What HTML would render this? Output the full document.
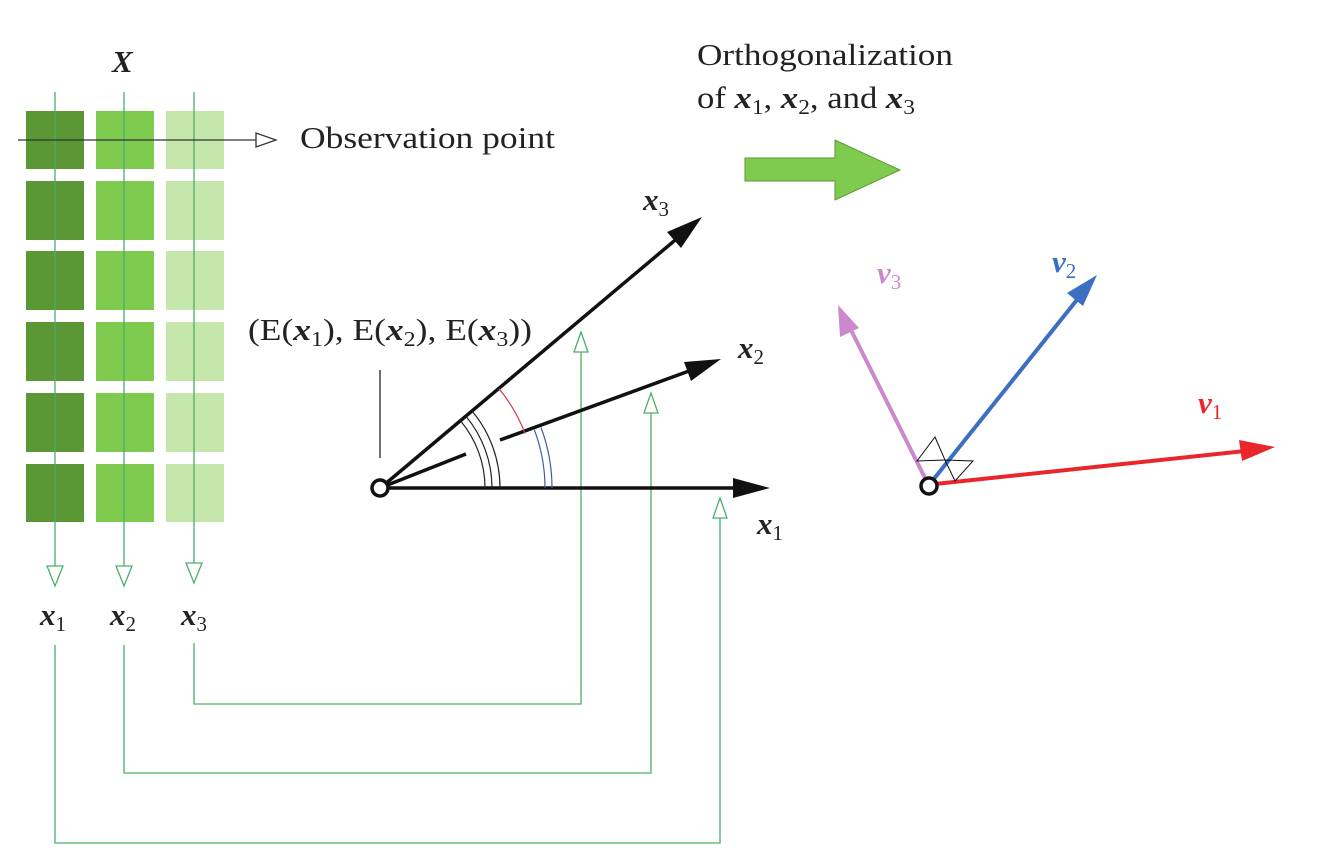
<!DOCTYPE html>
<html><head><meta charset="utf-8"><style>
html,body{margin:0;padding:0;background:#fff;}
svg{display:block;}
text{font-family:"Liberation Serif",serif;fill:#222;}
.v{font-weight:bold;font-style:italic;}
</style></head><body>
<svg width="1318" height="858" viewBox="0 0 1318 858" xmlns="http://www.w3.org/2000/svg">
<g>
<g fill="#5b9734">
<rect x="26" y="111" width="58" height="58"/><rect x="26" y="181" width="58" height="59"/><rect x="26" y="251" width="58" height="59"/><rect x="26" y="322" width="58" height="59"/><rect x="26" y="393" width="58" height="59"/><rect x="26" y="464" width="58" height="58"/>
</g>
<g fill="#7ecb4f">
<rect x="96" y="111" width="58" height="58"/><rect x="96" y="181" width="58" height="59"/><rect x="96" y="251" width="58" height="59"/><rect x="96" y="322" width="58" height="59"/><rect x="96" y="393" width="58" height="59"/><rect x="96" y="464" width="58" height="58"/>
</g>
<g fill="#c5e7ab">
<rect x="166" y="111" width="58" height="58"/><rect x="166" y="181" width="58" height="59"/><rect x="166" y="251" width="58" height="59"/><rect x="166" y="322" width="58" height="59"/><rect x="166" y="393" width="58" height="59"/><rect x="166" y="464" width="58" height="58"/>
</g>
</g>
<text x="112" y="72" class="v" font-size="31">X</text>
<g stroke="#4caf6a" stroke-width="1.3" fill="#fff">
<line x1="55" y1="92" x2="55" y2="566"/><line x1="124" y1="92" x2="124" y2="566"/><line x1="194" y1="92" x2="194" y2="563"/>
<polygon points="47,566 63,566 55,586"/><polygon points="116,566 132,566 124,586"/><polygon points="186,563 202,563 194,583"/>
<polyline fill="none" points="194,643 194,704 581,704 581,350"/>
<polyline fill="none" points="124,645 124,773 651,773 651,412"/>
<polyline fill="none" points="55,645 55,843 720,843 720,518"/>
<polygon points="574,352 588,352 581,332"/>
<polygon points="644,413 658,413 651,393"/>
<polygon points="713,518 727,518 720,498"/>
</g>
<line x1="18" y1="140" x2="256" y2="140" stroke="#333" stroke-width="1.3"/>
<polygon points="256,133 256,147 276,140" fill="#fff" stroke="#333" stroke-width="1.3"/>
<text x="300" y="148" font-size="31" textLength="255" lengthAdjust="spacingAndGlyphs">Observation point</text>
<text x="40" y="625" class="v" font-size="31">x<tspan font-size="21" dy="6" font-weight="normal" font-style="normal">1</tspan></text>
<text x="110" y="625" class="v" font-size="31">x<tspan font-size="21" dy="6" font-weight="normal" font-style="normal">2</tspan></text>
<text x="181" y="625" class="v" font-size="31">x<tspan font-size="21" dy="6" font-weight="normal" font-style="normal">3</tspan></text>
<text x="697" y="65" font-size="31" textLength="256" lengthAdjust="spacingAndGlyphs">Orthogonalization</text>
<text x="697" y="108" font-size="31" textLength="218" lengthAdjust="spacingAndGlyphs">of <tspan class="v">x</tspan><tspan font-size="21" dy="6">1</tspan><tspan dy="-6">, </tspan><tspan class="v">x</tspan><tspan font-size="21" dy="6">2</tspan><tspan dy="-6">, and </tspan><tspan class="v">x</tspan><tspan font-size="21" dy="6">3</tspan></text>
<polygon points="745,158 835,158 835,140 900,170 835,200 835,181 745,181" fill="#7ecb4f" stroke="#5b9734" stroke-width="1"/>
<text x="248" y="340" font-size="31" textLength="284" lengthAdjust="spacingAndGlyphs">(E(<tspan class="v">x</tspan><tspan font-size="21" dy="6">1</tspan><tspan dy="-6">), E(</tspan><tspan class="v">x</tspan><tspan font-size="21" dy="6">2</tspan><tspan dy="-6">), E(</tspan><tspan class="v">x</tspan><tspan font-size="21" dy="6">3</tspan><tspan dy="-6">))</tspan></text>
<line x1="380" y1="370" x2="380" y2="458" stroke="#222" stroke-width="1.3"/>
<g stroke="#111" stroke-width="3.5" fill="none">
<line x1="385" y1="488" x2="740" y2="488"/>
<line x1="384" y1="485" x2="680" y2="236"/>
<line x1="385" y1="486" x2="466" y2="454"/>
<line x1="500" y1="440" x2="700" y2="367"/>
</g>
<g fill="#111">
<polygon points="770,488 733,478 733,498"/>
<polygon points="702,217 667,232 681,248"/>
<polygon points="721,359 684,362 691,381"/>
</g>
<circle cx="380" cy="488" r="8" fill="#fff" stroke="#111" stroke-width="3.5"/>
<g fill="none" stroke-width="1.2">
<path d="M485,488 A105,105 0 0 0 460.5,420.7" stroke="#222"/>
<path d="M492,488 A112,112 0 0 0 465.9,416.2" stroke="#222"/>
<path d="M500,488 A120,120 0 0 0 472,411" stroke="#222"/>
<path d="M545,488 A165,165 0 0 0 534.4,429.9" stroke="#3b5fa0"/>
<path d="M552,488 A172,172 0 0 0 541,427.5" stroke="#3b5fa0"/>
<path d="M525,433.4 A155,155 0 0 0 498.9,388.6" stroke="#cc3b4a"/>
</g>
<text x="643" y="210" class="v" font-size="31">x<tspan font-size="21" dy="6" font-weight="normal" font-style="normal">3</tspan></text>
<text x="738" y="358" class="v" font-size="31">x<tspan font-size="21" dy="6" font-weight="normal" font-style="normal">2</tspan></text>
<text x="757" y="534" class="v" font-size="31">x<tspan font-size="21" dy="6" font-weight="normal" font-style="normal">1</tspan></text>
<line x1="935" y1="484" x2="1245" y2="451" stroke="#e8262b" stroke-width="4"/>
<polygon points="1275,447 1239,440 1242,461" fill="#e8262b"/>
<line x1="933" y1="480" x2="1080" y2="296" stroke="#3a6fc2" stroke-width="4"/>
<polygon points="1097,275 1067,293 1083,306" fill="#3a6fc2"/>
<line x1="926" y1="480" x2="851" y2="330" stroke="#cc88cc" stroke-width="4"/>
<polygon points="838,305 840,337 859,328" fill="#cc88cc"/>
<g fill="none" stroke="#111" stroke-width="1">
<polygon points="935,437 945,460 917,461"/>
<polygon points="945,460 973,461 955,481"/>
</g>
<circle cx="929" cy="486" r="8" fill="#fff" stroke="#111" stroke-width="3.5"/>
<text x="877" y="283" font-size="31" class="v" style="fill:#cc88cc">v<tspan font-size="21" dy="6" font-weight="normal" font-style="normal">3</tspan></text>
<text x="1052" y="272" font-size="31" class="v" style="fill:#3a6fc2">v<tspan font-size="21" dy="6" font-weight="normal" font-style="normal">2</tspan></text>
<text x="1198" y="413" font-size="31" class="v" style="fill:#e8262b">v<tspan font-size="21" dy="6" font-weight="normal" font-style="normal">1</tspan></text>
</svg>
</body></html>
